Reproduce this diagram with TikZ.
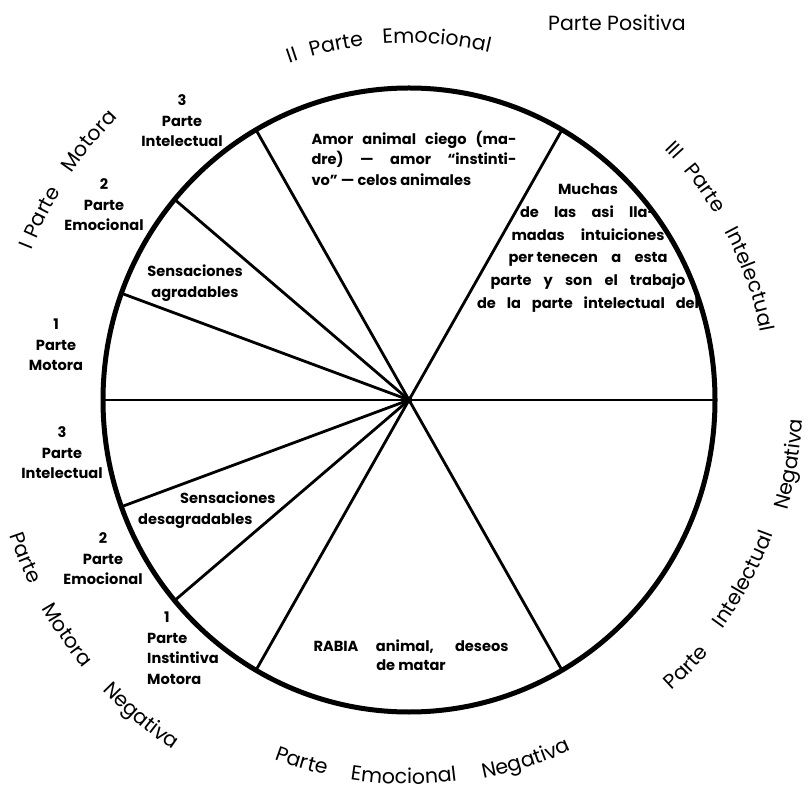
\documentclass[tikz,border=0pt]{standalone}
\usepackage{fontspec}
\setmainfont{Poppins}
\usetikzlibrary{decorations.text,calc}
\newcommand\outerfont{\fontsize{20.5}{24}\selectfont}
\newcommand\innerfont{\fontsize{14.6}{20.5}\selectfont\bfseries}
\tikzset{
  rim/.style={line width=5pt},
  spoke/.style={line width=2.8pt},
  inner/.style={inner sep=0pt,font=\innerfont},
  arcword/.style={decorate,decoration={text along path,text align=center,text={|\outerfont|#1}}}
}
\begin{document}
\begin{tikzpicture}[x=1pt,y=1pt]
\useasboundingbox (0,0) rectangle (811,796);
\fill[white] (0,0) rectangle (811,796);
\coordinate (C) at (409,396);
\foreach \a in {0,60,120,140,160,180,200,220,240,300}
  \coordinate (p\a) at ($(C)+(\a:306 and 312)$);
% spokes
\draw[spoke] (p180) -- (p0);
\foreach \a in {60,120,140,160,200,220,240,300}
  \draw[spoke] (C) -- (p\a);
\fill (C) circle (3.5);
\draw[rim] (C) ellipse [x radius=306, y radius=312];

% inner labels
\node[inner,align=center] (n3a) at (182,675) {3\\Parte\\Intelectual};
\node[inner,align=center] (n2a) at (104,591) {2\\Parte\\Emocional};
\node[inner,align=center] (n1a) at (56,451) {1\\Parte\\Motora};
\node[inner,align=center] (sensA) at (195,513) {Sensaciones\\agradables};
\node[inner,align=left] (amor) at (414,638) {\makebox[205pt][s]{Amor animal ciego (ma-}\\\makebox[205pt][s]{dre) — amor “instinti-}\\vo” — celos animales};
\node[inner,align=center,font=\fontsize{14.6}{22.8}\selectfont\bfseries] (muchas) at (588,548) {Muchas\\\makebox[136pt][s]{de las asi lla-}\\\makebox[153pt][s]{madas intuiciones}\\\makebox[159pt][s]{per\hspace{3pt}tenecen a esta}\\\makebox[195pt][s]{parte y son el trabajo}\\\makebox[222pt][s]{de la parte intelectual del}};
\node[inner,align=center] (n3b) at (62,343) {3\\Parte\\Intelectual};
\node[inner,align=left,anchor=west] (sensB) at (138,286) {\hspace*{42pt}Sensaciones\\desagradables};
\node[inner,align=center] (n2b) at (103,237) {2\\Parte\\Emocional};
\node[inner,align=left,anchor=west] (n1b) at (147,148) {\hspace*{17pt}1\\Parte\\Instintiva\\Motora};
\node[inner,align=center,font=\fontsize{14.6}{19.5}\selectfont\bfseries] (rabia) at (411,141) {\makebox[195pt][s]{RABIA animal, deseos}\\de matar};
\node[inner,font=\outerfont] (pos) at (617,773) {Parte Positiva};

% outer curved labels: top
\path[arcword=II] (C) ++(133.7:357) arc[start angle=133.7,end angle=83.7,radius=357];
\path[arcword=Parte] (C) ++(126.6:357) arc[start angle=126.6,end angle=76.6,radius=357];
\path[arcword=Emocional] (C) ++(110.6:357) arc[start angle=110.6,end angle=60.6,radius=357];
% right
\path[arcword=III] (C) ++(68.3:358) arc[start angle=68.3,end angle=18.3,radius=358];
\path[arcword=Parte] (C) ++(60.6:358) arc[start angle=60.6,end angle=10.6,radius=358];
\path[arcword=Intelectual] (C) ++(44.5:358) arc[start angle=44.5,end angle=-5.5,radius=358];
% left
\path[arcword=I] (C) ++(183:406) arc[start angle=183,end angle=133,radius=406];
\path[arcword=Parte] (C) ++(177.9:406) arc[start angle=177.9,end angle=127.9,radius=406];
\path[arcword=Motora] (C) ++(166:406) arc[start angle=166,end angle=116,radius=406];
% lower left
\path[arcword=Parte] (C) ++(177.3:422) arc[start angle=177.3,end angle=227.3,radius=422];
\path[arcword=Motora] (C) ++(189.5:422) arc[start angle=189.5,end angle=239.5,radius=422];
\path[arcword=Negativa] (C) ++(204.7:422) arc[start angle=204.7,end angle=254.7,radius=422];
% bottom
\path[arcword=Parte] (C) ++(228.5:384) arc[start angle=228.5,end angle=278.5,radius=384];
\path[arcword=Emocional] (C) ++(244.2:384) arc[start angle=244.2,end angle=294.2,radius=384];
\path[arcword=Negativa] (C) ++(263:386) arc[start angle=263,end angle=313,radius=386];
% lower right
\path[arcword=Parte] (C) ++(291:392) arc[start angle=291,end angle=341,radius=392];
\path[arcword=Intelectual] (C) ++(306.8:388) arc[start angle=306.8,end angle=356.8,radius=388];
\path[arcword=Negativa] (C) ++(325.4:394) arc[start angle=325.4,end angle=375.4,radius=394];
\end{tikzpicture}
\end{document}
